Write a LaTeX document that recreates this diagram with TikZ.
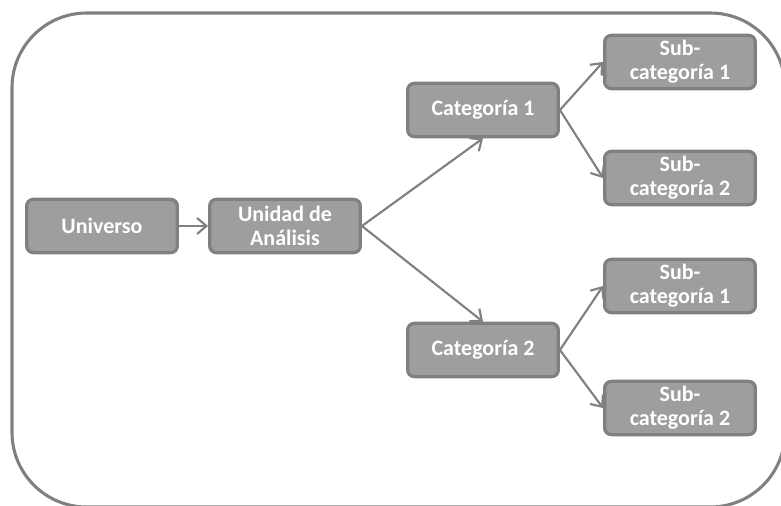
\documentclass[tikz,border=0pt]{standalone}
\usepackage{fontspec}
\setmainfont{Carlito}
\usetikzlibrary{arrows.meta}
\definecolor{boxfill}{HTML}{9E9E9E}
\definecolor{boxline}{HTML}{808080}
\tikzset{
  catbox/.style={draw=boxline, line width=2.4pt, fill=boxfill, rounded corners=5pt,
    minimum width=113pt, minimum height=40pt, align=center, text=white,
    font=\fontsize{16.5}{18}\selectfont\bfseries, inner sep=2pt},
  link/.style={draw=boxline, line width=1.6pt, -{Straight Barb[length=7pt,width=12pt,line width=1.6pt]}}
}
\begin{document}
\begin{tikzpicture}[x=0.75pt, y=-0.75pt]
    \useasboundingbox (0,0) rectangle (781,506);
    \draw[boxline, line width=2.3pt, rounded corners=56pt] (12,13) rectangle (785,507);
    \node[catbox] (universo) at (102,226) {Universo};
    \node[catbox] (unidad) at (285,226) {Unidad de\\Análisis};
    \node[catbox] (cat1) at (483,110) {Categoría 1};
    \node[catbox] (cat2) at (483,350) {Categoría 2};
    \node[catbox] (sub1) at (680,62) {Sub-\\categoría 1};
    \node[catbox] (sub2) at (680,178) {Sub-\\categoría 2};
    \node[catbox] (sub3) at (680,286) {Sub-\\categoría 1};
    \node[catbox] (sub4) at (680,408) {Sub-\\categoría 2};
    \draw[link] (universo) -- (unidad);
    \draw[link] (unidad.east) -- (cat1.south);
    \draw[link] (unidad.east) -- (cat2.north);
    \draw[link] (cat1.east) -- (sub1.west);
    \draw[link] (cat1.east) -- (sub2.west);
    \draw[link] (cat2.east) -- (sub3.west);
    \draw[link] (cat2.east) -- (sub4.west);
  \end{tikzpicture}
\end{document}
